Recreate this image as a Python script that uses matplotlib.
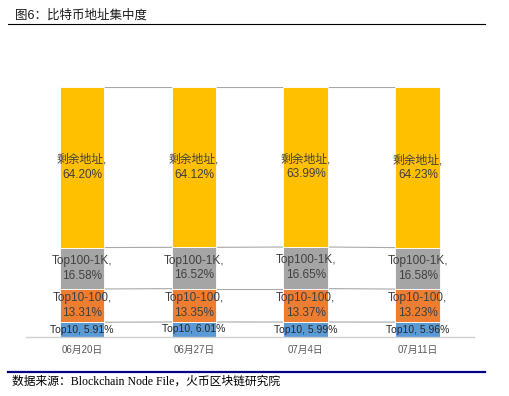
import numpy as np
import matplotlib.pyplot as plt
from matplotlib.lines import Line2D

plt.rcParams['font.family'] = ['Liberation Sans', 'Noto Sans CJK SC', 'DejaVu Sans']

# data
dates = ['06月20日', '06月27日', '07月4日', '07月11日']
series_names = ['Top10', 'Top10-100', 'Top100-1K', '剩余地址']
top10 = [5.91, 6.01, 5.99, 5.96]
top10_100 = [13.31, 13.35, 13.37, 13.23]
top100_1k = [16.58, 16.52, 16.65, 16.58]
rest = [64.20, 64.12, 63.99, 64.23]
colors = ['#5B9BD5', '#ED7D31', '#A5A5A5', '#FFC000']

values = [top10, top10_100, top100_1k, rest]

fig = plt.figure(figsize=(5.1, 3.96), dpi=100)
ax = fig.add_axes([0.051, 0.149, 0.878, 0.631])

x = np.arange(len(dates))
w = 0.4
bottom = np.zeros(len(dates))
levels = []
for name, vals, c in zip(series_names, values, colors):
    vals = np.array(vals)
    ax.bar(x, vals, w, bottom=bottom, color=c, edgecolor='white', linewidth=0.6, zorder=2)
    for xi, b, v in zip(x, bottom, vals):
        if name == 'Top10':
            ax.text(xi, b + v / 2, f'{name}, {v:.2f}%', ha='center', va='center',
                    fontsize=7.5, color='#262626', zorder=4)
        else:
            ax.text(xi, b + v / 2, f'{name},\n{v:.2f}%', ha='center', va='center',
                    fontsize=8.5, color='#404040', linespacing=1.3, zorder=4)
    bottom = bottom + vals
    levels.append(bottom.copy())

# series lines between bars
for lev in levels:
    for i in range(len(dates) - 1):
        ax.plot([x[i] + w / 2, x[i + 1] - w / 2], [lev[i], lev[i + 1]],
                color='#A8A8A8', linewidth=0.8, zorder=1)

ax.set_xlim(-0.5, 3.5)
ax.set_ylim(0, 100)
ax.set_xticks(x)
ax.set_xticklabels(dates, fontsize=7, color='#595959')
ax.tick_params(axis='x', length=0, pad=6)
ax.set_yticks([])
for s in ['top', 'left', 'right']:
    ax.spines[s].set_visible(False)
ax.spines['bottom'].set_color('#D0D0D0')
ax.spines['bottom'].set_linewidth(1)

# header and footer
fig.text(15 / 510, 1 - 15 / 396, '图6：比特币地址集中度', fontsize=9, color='#1a1a1a',
         va='center', ha='left')
fig.add_artist(Line2D([8 / 510, 485 / 510], [1 - 24 / 396, 1 - 24 / 396],
                      color='black', linewidth=0.8))
fig.add_artist(Line2D([8 / 510, 485 / 510], [1 - 372 / 396, 1 - 372 / 396],
                      color='#000080', linewidth=1.6))
fig.text(12 / 510, 1 - 382 / 396, '数据来源：Blockchain Node File，火币区块链研究院',
         fontsize=8.5, family=['Liberation Serif', 'Noto Sans CJK SC'],
         color='black', va='center', ha='left')

fig.savefig('out.png', dpi=100)
